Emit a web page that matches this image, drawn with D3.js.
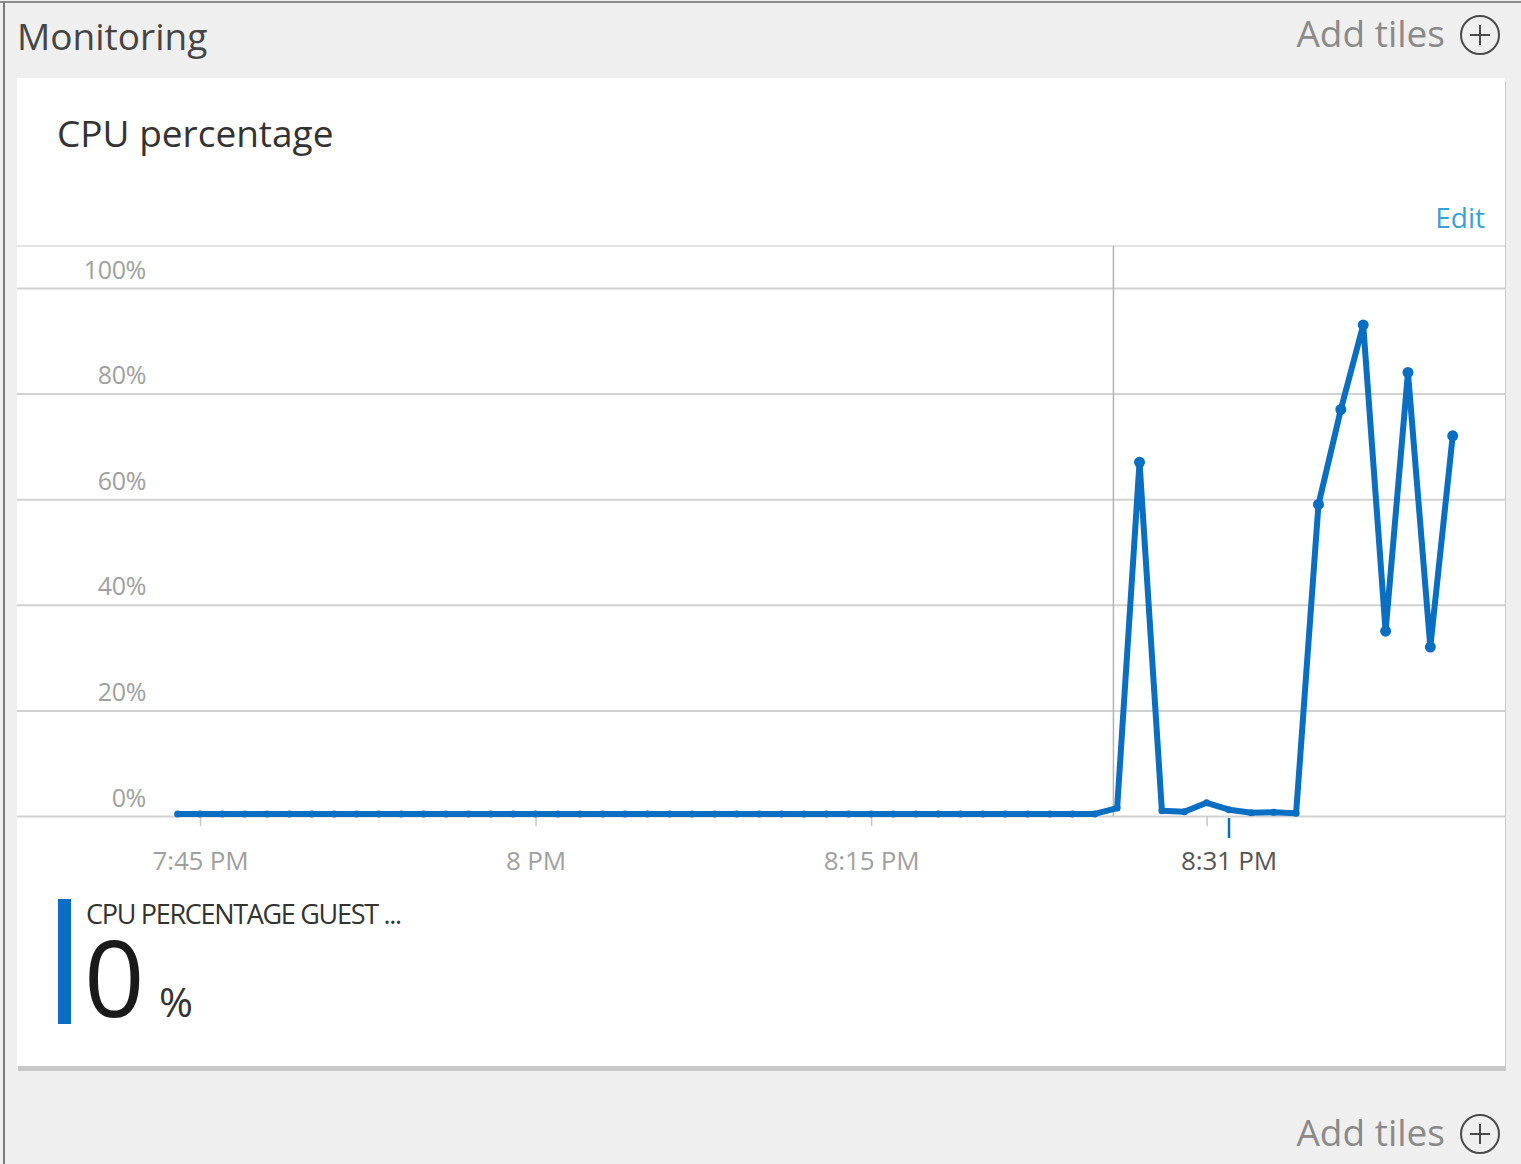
<!DOCTYPE html>
<html>
<head>
<meta charset="utf-8">
<script src="https://cdn.jsdelivr.net/npm/d3@7"></script>
<style>
  html, body { margin: 0; padding: 0; background: #efefef; }
  svg { display: block; font-family: 'Open Sans', 'Noto Sans', sans-serif; }
</style>
</head>
<body>
<svg id="chart"></svg>
<script>
// ========== DATA ==========
var cpuTimes = [
	'19:44', '19:45', '19:46', '19:47', '19:48', '19:49', '19:50', '19:51',
	'19:52', '19:53', '19:54', '19:55', '19:56', '19:57', '19:58', '19:59',
	'20:00', '20:01', '20:02', '20:03', '20:04', '20:05', '20:06', '20:07',
	'20:08', '20:09', '20:10', '20:11', '20:12', '20:13', '20:14', '20:15',
	'20:16', '20:17', '20:18', '20:19', '20:20', '20:21', '20:22', '20:23',
	'20:24', '20:25', '20:26', '20:27', '20:28', '20:29', '20:30', '20:31',
	'20:32', '20:33', '20:34', '20:35', '20:36', '20:37', '20:38', '20:39',
	'20:40', '20:41'
];
var cpuValues = [
	0.4, 0.4, 0.4, 0.4, 0.4, 0.4, 0.4, 0.4,
	0.4, 0.4, 0.4, 0.4, 0.4, 0.4, 0.4, 0.4,
	0.4, 0.4, 0.4, 0.4, 0.4, 0.4, 0.4, 0.4,
	0.4, 0.4, 0.4, 0.4, 0.4, 0.4, 0.4, 0.4,
	0.4, 0.4, 0.4, 0.4, 0.4, 0.4, 0.4, 0.4,
	0.4, 0.4, 1.5, 67, 1.0, 0.8, 2.5, 1.2,
	0.6, 0.7, 0.5, 59, 77, 93, 35, 84,
	32, 72
];
var yTicks = [0, 20, 40, 60, 80, 100];
var xTicks = ['19:45', '20:00', '20:15', '20:30'];
var xTickLabels = ['7:45 PM', '8 PM', '8:15 PM', ''];
var cursorTime = '20:31';
var cursorLabel = '8:31 PM';
var hoverLineTime = '20:25:50';
var legendName = 'CPU PERCENTAGE GUEST ...';
var legendValue = '0';
var legendUnit = '%';

// ========== CONSTANTS ==========
var width = 1521;
var height = 1164;
var blue = '#0a6fc2';
var grid_color = '#d2d2d2';
var label_color = '#a0a0a0';

var cardLeft = 17, cardRight = 1505, cardTop = 78, cardBottom = 1066;
var plotTop = 288, plotBottom = 816;

var parseTime = d3.timeParse('%H:%M');
var parseTimeSec = d3.timeParse('%H:%M:%S');

var data = cpuTimes.map(function(t, i) {
	return { time: parseTime(t), value: cpuValues[i] };
});

var svg = d3.select('#chart')
	.attr('width', width)
	.attr('height', height);

// ========== FRAME ==========
svg.append('rect')
	.attr('x', 0).attr('y', 0)
	.attr('width', width).attr('height', height)
	.attr('fill', '#efefef');
svg.append('line')
	.attr('x1', 0).attr('x2', width)
	.attr('y1', 2).attr('y2', 2)
	.attr('stroke', '#8c8c8c').attr('stroke-width', 2);
svg.append('line')
	.attr('x1', 4).attr('x2', 4)
	.attr('y1', 2).attr('y2', height)
	.attr('stroke', '#7a7a7a').attr('stroke-width', 2);

svg.append('text')
	.attr('x', 17).attr('y', 50)
	.attr('fill', '#454545')
	.style('font-size', '37px')
	.text('Monitoring');

function addTiles(cy) {
	svg.append('text')
		.attr('x', 1445).attr('y', cy + 12)
		.attr('text-anchor', 'end')
		.attr('fill', '#8a8a8a')
		.style('font-size', '37px')
		.text('Add tiles');
	svg.append('circle')
		.attr('cx', 1480).attr('cy', cy).attr('r', 19)
		.attr('fill', 'none').attr('stroke', '#4a4a4a').attr('stroke-width', 2);
	svg.append('path')
		.attr('d', 'M1470,' + cy + 'H1490M1480,' + (cy - 10) + 'V' + (cy + 10))
		.attr('stroke', '#4a4a4a').attr('stroke-width', 2);
}
addTiles(35);
addTiles(1134);

// card with shadow
svg.append('rect')
	.attr('x', cardLeft + 1).attr('y', cardTop + 3)
	.attr('width', cardRight - cardLeft).attr('height', cardBottom - cardTop + 2)
	.attr('fill', '#c8c8c8');
svg.append('rect')
	.attr('x', cardLeft).attr('y', cardTop)
	.attr('width', cardRight - cardLeft).attr('height', cardBottom - cardTop)
	.attr('fill', '#ffffff');

svg.append('text')
	.attr('x', 57).attr('y', 147)
	.attr('fill', '#333333')
	.style('font-size', '37px')
	.text('CPU percentage');

svg.append('text')
	.attr('x', 1485).attr('y', 228)
	.attr('text-anchor', 'end')
	.attr('fill', '#3aa0dc')
	.style('font-size', '28px')
	.text('Edit');

svg.append('line')
	.attr('x1', cardLeft).attr('x2', cardRight)
	.attr('y1', 246).attr('y2', 246)
	.attr('stroke', '#e4e4e4').attr('stroke-width', 2);

// ========== SCALES ==========
var x = d3.scaleTime()
	.domain([parseTime('19:45'), parseTime('20:31')])
	.range([200, 1229]);
var y = d3.scaleLinear()
	.domain([0, 100])
	.range([plotBottom, plotTop]);

// gridlines + y labels
var yAxis = svg.append('g')
	.attr('transform', 'translate(' + cardLeft + ',0)')
	.call(d3.axisLeft(y)
		.tickValues(yTicks)
		.tickSize(-(cardRight - cardLeft))
		.tickFormat(function(d) { return d + '%'; }));
yAxis.select('.domain').remove();
yAxis.selectAll('.tick line')
	.attr('stroke', grid_color)
	.attr('stroke-width', 2);
yAxis.selectAll('.tick text')
	.attr('x', 129)
	.attr('y', -10)
	.attr('dy', null)
	.attr('text-anchor', 'end')
	.attr('fill', label_color)
	.style('font-size', '25px')
	.style('letter-spacing', '-0.3px')
	.style('font-family', "'Open Sans', sans-serif");

// hover line
svg.append('line')
	.attr('x1', x(parseTimeSec(hoverLineTime))).attr('x2', x(parseTimeSec(hoverLineTime)))
	.attr('y1', 246).attr('y2', plotBottom)
	.attr('stroke', '#b4b4b4').attr('stroke-width', 1.5);

// x axis
var xAxis = svg.append('g')
	.attr('transform', 'translate(0,' + plotBottom + ')')
	.call(d3.axisBottom(x)
		.tickValues(xTicks.map(parseTime))
		.tickSize(10)
		.tickFormat(function(d, i) { return xTickLabels[i]; }));
xAxis.select('.domain').remove();
xAxis.selectAll('.tick line')
	.attr('stroke', '#c8c8c8')
	.attr('stroke-width', 1.5);
xAxis.selectAll('.tick text')
	.attr('y', 54)
	.attr('dy', null)
	.attr('fill', label_color)
	.style('font-size', '26px')
	.style('letter-spacing', '-0.2px')
	.style('font-family', "'Open Sans', sans-serif");

// cursor tick
var cx = x(parseTime(cursorTime));
svg.append('line')
	.attr('x1', cx).attr('x2', cx)
	.attr('y1', plotBottom + 2).attr('y2', plotBottom + 22)
	.attr('stroke', blue).attr('stroke-width', 2.5);
svg.append('text')
	.attr('x', cx).attr('y', plotBottom + 54)
	.attr('text-anchor', 'middle')
	.attr('fill', '#555555')
	.style('font-size', '26px')
	.style('letter-spacing', '-0.2px')
	.text(cursorLabel);

// ========== SERIES ==========
var line = d3.line()
	.x(function(d) { return x(d.time); })
	.y(function(d) { return y(d.value); });

svg.append('path')
	.datum(data)
	.attr('d', line)
	.attr('fill', 'none')
	.attr('stroke', blue)
	.attr('stroke-width', 6)
	.attr('stroke-linejoin', 'round');

svg.selectAll('.pt')
	.data(data).enter().append('circle')
	.attr('class', 'pt')
	.attr('cx', function(d) { return x(d.time); })
	.attr('cy', function(d) { return y(d.value); })
	.attr('r', function(d) { return d.value > 5 ? 5.5 : 3.5; })
	.attr('fill', blue);

// ========== LEGEND ==========
svg.append('rect')
	.attr('x', 58).attr('y', 899)
	.attr('width', 13).attr('height', 125)
	.attr('fill', blue);
svg.append('text')
	.attr('x', 86).attr('y', 924)
	.attr('fill', '#333333')
	.style('font-size', '27px')
	.style('letter-spacing', '-1.3px')
	.text(legendName);
svg.append('text')
	.attr('x', 84).attr('y', 1017)
	.attr('fill', '#1a1a1a')
	.style('font-size', '106px')
	.text(legendValue);
svg.append('text')
	.attr('x', 159).attr('y', 1017)
	.attr('fill', '#333333')
	.style('font-size', '41px')
	.text(legendUnit);
</script>
</body>
</html>
